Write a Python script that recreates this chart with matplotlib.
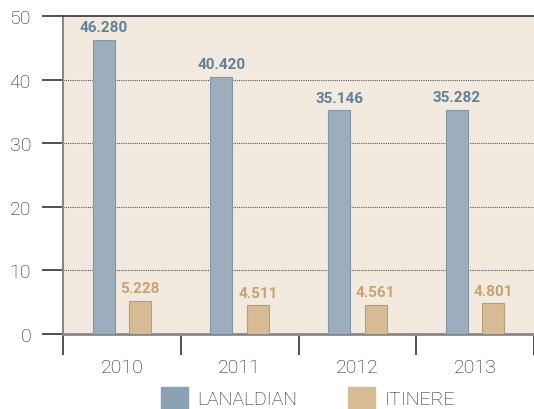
#!/usr/bin/env python3
"""Grouped bars LANALDIAN / ITINERE 2010-2013."""

import matplotlib

matplotlib.use("Agg")
import matplotlib.pyplot as plt
import numpy as np
from matplotlib.patches import Patch

years = ["2010", "2011", "2012", "2013"]
lanaldian = [46.280, 40.420, 35.146, 35.282]
itinere = [5.228, 4.511, 4.561, 4.801]
lan_labels = ["46.280", "40.420", "35.146", "35.282"]
iti_labels = ["5.228", "4.511", "4.561", "4.801"]

BLUE = "#9caebd"
TAN = "#d6bb93"
BLUE_TXT = "#5f8298"
TAN_TXT = "#c9a270"
BG = "#f2e9df"
TXT = "#1e1e1e"

plt.rcParams["font.family"] = ["Roboto", "DejaVu Sans"]

fig = plt.figure(figsize=(5.34, 4.10), dpi=100)
ax = fig.add_axes([63 / 534, 75 / 410, 1 - 63 / 534, 318 / 410])
ax.set_facecolor(BG)

x = np.arange(len(years))
w = 0.185
off = 0.155
ax.bar(x - off, lanaldian, w, color=BLUE, edgecolor="#8497a6", linewidth=0.8, zorder=3)
ax.bar(x + off, itinere, w, color=TAN, edgecolor="#b89d76", linewidth=0.8, zorder=3)

for xi, v, s in zip(x, lanaldian, lan_labels):
    ax.text(xi - off, v + 0.9, s, ha="center", va="bottom", color=BLUE_TXT,
            fontsize=11, fontweight="bold")
for xi, v, s in zip(x, itinere, iti_labels):
    ax.text(xi + off, v + 0.9, s, ha="center", va="bottom", color=TAN_TXT,
            fontsize=11, fontweight="bold")

ax.set_xlim(-0.5, 3.43)
ax.set_ylim(0, 50)
ax.set_yticks([0, 10, 20, 30, 40, 50])
ax.set_xticks(x)
ax.set_xticklabels(years)
ax.set_xticks(np.arange(-0.5, 4, 1), minor=True)
ax.tick_params(axis="x", which="major", length=0, pad=17, labelsize=14, labelcolor=TXT)
ax.tick_params(axis="x", which="minor", length=15, width=1.2, color="#333333")
ax.tick_params(axis="y", length=15, width=1.2, color="#333333", pad=8,
               labelsize=14, labelcolor=TXT)
for lbl in ax.get_xticklabels() + ax.get_yticklabels():
    lbl.set_fontweight("light")

for yv in [10, 20, 30, 40]:
    ax.axhline(yv, color="#555555", linestyle=(0, (1, 1)), linewidth=0.8, zorder=1)

ax.spines["right"].set_visible(False)
ax.spines["top"].set_color("#333333")
ax.spines["top"].set_linewidth(1.2)
ax.spines["left"].set_color("#888888")
ax.spines["left"].set_linewidth(1.5)
ax.spines["bottom"].set_color("#888888")
ax.spines["bottom"].set_linewidth(2)

handles = [Patch(facecolor="#8aa1b3", edgecolor="#8aa1b3"),
           Patch(facecolor=TAN, edgecolor=TAN)]
leg = fig.legend(handles, ["LANALDIAN", "ITINERE"], loc="center",
                 bbox_to_anchor=(308 / 534, 1 - 399 / 410),
                 ncol=2, frameon=False, fontsize=14, handlelength=1.4, handleheight=1.4,
                 columnspacing=2.6, handletextpad=0.5, labelcolor=TXT)
for t in leg.get_texts():
    t.set_fontweight("light")

fig.savefig("out.png", dpi=100)
